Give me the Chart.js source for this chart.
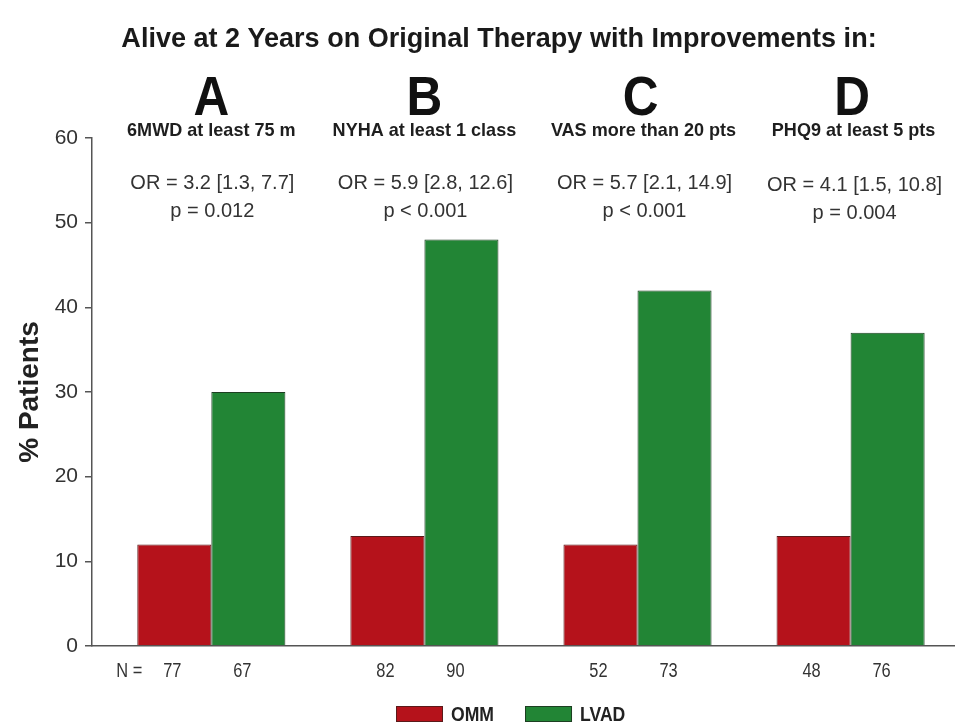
<!DOCTYPE html>
<html>
<head>
<meta charset="utf-8">
<script src="https://cdn.jsdelivr.net/npm/chart.js@4.4.1/dist/chart.umd.min.js"></script>
<style>
  html, body { margin: 0; padding: 0; background: #fff; }
  #wrap { width: 955px; height: 727px; }
</style>
</head>
<body>
<div id="wrap"><canvas id="chart"></canvas></div>
<script>
const categories = ['A', 'B', 'C', 'D'];
const subtitles = ['6MWD at least 75 m', 'NYHA at least 1 class', 'VAS more than 20 pts', 'PHQ9 at least 5 pts'];
const orLabels = ['OR = 3.2 [1.3, 7.7]', 'OR = 5.9 [2.8, 12.6]', 'OR = 5.7 [2.1, 14.9]', 'OR = 4.1 [1.5, 10.8]'];
const pLabels = ['p = 0.012', 'p < 0.001', 'p < 0.001', 'p = 0.004'];
const ommValues = [12, 13, 12, 13];
const lvadValues = [30, 48, 42, 37];
const ommN = [77, 82, 52, 48];
const lvadN = [67, 90, 73, 76];
const yTicks = [0, 10, 20, 30, 40, 50, 60];

const SANS = '"Liberation Sans", Arial, sans-serif';
// small horizontal nudges of the text blocks above each group
const textShift = [0, 0, 6, 3];

// draw text squeezed horizontally (the original uses a narrow face)
function narrowText(ctx, text, x, y, sx) {
  ctx.save();
  ctx.translate(x, y);
  ctx.scale(sx, 1);
  ctx.fillText(text, 0, 0);
  ctx.restore();
}

const annotations = {
  id: 'annotations',
  afterDraw(chart) {
    const ctx = chart.ctx;
    const x = chart.scales.x;
    ctx.save();
    ctx.textAlign = 'center';

    ctx.fillStyle = '#1a1a1a';
    ctx.font = 'bold 28px ' + SANS;
    ctx.textBaseline = 'middle';
    narrowText(ctx, 'Alive at 2 Years on Original Therapy with Improvements in:', 499, 39, 0.965);

    categories.forEach((c, i) => {
      const cx = x.getPixelForValue(i) + textShift[i];
      const dy = i === 3 ? 2 : 0;
      ctx.fillStyle = '#111';
      ctx.font = 'bold 55px ' + SANS;
      ctx.textBaseline = 'alphabetic';
      narrowText(ctx, c, cx - textShift[i] / 2, 115, 0.9);

      ctx.textBaseline = 'middle';
      ctx.fillStyle = '#1e1e1e';
      ctx.font = 'bold 19px ' + SANS;
      narrowText(ctx, subtitles[i], cx, 131, 0.95);

      ctx.fillStyle = '#333';
      ctx.font = '20px ' + SANS;
      narrowText(ctx, orLabels[i], cx + 1, 183 + dy, 1.0);
      narrowText(ctx, pLabels[i], cx + 1, 211 + dy, 1.0);
    });

    // N labels under each bar
    ctx.font = '20px ' + SANS;
    ctx.fillStyle = '#333';
    const m0 = chart.getDatasetMeta(0).data;
    const m1 = chart.getDatasetMeta(1).data;
    ommN.forEach((n, i) => {
      narrowText(ctx, String(n), m0[i].x - 2, 671, 0.82);
      narrowText(ctx, String(lvadN[i]), m1[i].x - 6, 671, 0.82);
    });
    ctx.textAlign = 'right';
    narrowText(ctx, 'N =', m0[0].x - 32, 671, 0.82);

    // legend
    const items = chart.data.datasets;
    let lx = 396;
    const ly = 714;
    ctx.textAlign = 'left';
    ctx.font = 'bold 20px ' + SANS;
    items.forEach(ds => {
      ctx.fillStyle = ds.backgroundColor;
      ctx.fillRect(lx, ly - 8, 47, 16);
      ctx.strokeStyle = ds.borderColor;
      ctx.lineWidth = 1;
      ctx.strokeRect(lx + 0.5, ly - 7.5, 46, 15);
      ctx.fillStyle = '#222';
      narrowText(ctx, ds.label, lx + 55, ly + 1, 0.88);
      lx += 55 + ctx.measureText(ds.label).width * 0.88 + 31;
    });
    ctx.restore();
  }
};

new Chart(document.getElementById('chart'), {
  type: 'bar',
  data: {
    datasets: [
      {
        label: 'OMM',
        data: ommValues.map((v, i) => ({ x: i, y: v })),
        backgroundColor: '#b5121b',
        borderColor: '#5a1a1a',
        borderWidth: 1
      },
      {
        label: 'LVAD',
        data: lvadValues.map((v, i) => ({ x: i, y: v })),
        backgroundColor: '#228535',
        borderColor: '#1d3f22',
        borderWidth: 1
      }
    ]
  },
  options: {
    responsive: true,
    maintainAspectRatio: false,
    animation: false,
    categoryPercentage: 0.695,
    barPercentage: 1.0,
    layout: { padding: { top: 138, right: 0, bottom: 81, left: 0 } },
    plugins: {
      legend: { display: false },
      tooltip: { enabled: false }
    },
    scales: {
      x: {
        type: 'linear',
        offset: false,
        min: -0.56,
        max: 3.49,
        afterBuildTicks: s => { s.ticks = categories.map((c, i) => ({ value: i })); },
        afterFit: s => { s.height = 0; },
        ticks: { display: false },
        grid: { display: false },
        border: { display: true, color: '#555', width: 1.5 }
      },
      y: {
        min: 0,
        max: 60,
        afterBuildTicks: s => { s.ticks = yTicks.map(v => ({ value: v })); },
        afterFit: s => { s.width = 92; },
        ticks: {
          padding: 7,
          color: '#333',
          font: { family: SANS, size: 21 }
        },
        grid: { drawOnChartArea: false, drawTicks: true, tickLength: 7, color: '#555', lineWidth: 1.5 },
        border: { display: true, color: '#555', width: 1.5 },
        title: {
          display: true,
          text: '% Patients',
          color: '#222',
          font: { family: SANS, size: 28, weight: 'bold' },
          padding: { top: 13, bottom: 0 }
        }
      }
    }
  },
  plugins: [annotations]
});
</script>
</body>
</html>
